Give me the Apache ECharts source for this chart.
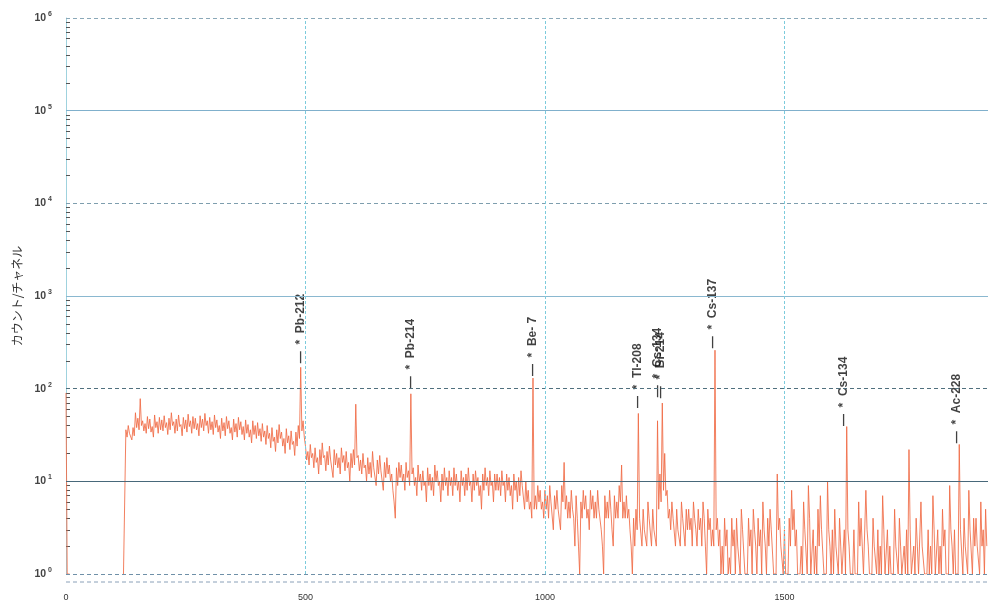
<!DOCTYPE html>
<html>
<head>
<meta charset="utf-8">
<script src="https://cdn.jsdelivr.net/npm/echarts@6/dist/echarts.min.js"></script>
<style>html,body{margin:0;padding:0;background:#fff;}#c{width:988px;height:605px;}</style>
</head>
<body>
<div id="c"></div>
<script>
// Channel step of the spectrum samples (each sample: upper value at channel, lower value half a step later)
const channelStep = 5;
// Upper envelope of counts per channel, channels 0,5,10,...,1920 (null = no counts)
const countsHigh = [
  90, 1, null, null, null, null, null, null, null, null, null, null, null, null, null, null, null, null, null, null,
  null, null, null, null, 1, 36, 40, 33, 38, 55, 48, 78, 45, 42, 50, 47, 39, 52, 44, 49,
  46, 51, 43, 48, 55, 44, 47, 52, 41, 49, 46, 53, 45, 50, 48, 42, 51, 47, 54, 45,
  49, 44, 52, 46, 40, 48, 43, 50, 45, 38, 47, 42, 49, 44, 39, 46, 41, 36, 45, 40,
  43, 37, 42, 35, 40, 33, 38, 30, 36, 41, 34, 29, 37, 31, 35, 27, 34, 40, 170, 45,
  24, 21, 25, 20, 23, 18, 22, 26, 19, 21, 24, 17, 22, 20, 18, 23, 19, 21, 16, 20,
  22, 68, 19, 17, 20, 15, 18, 16, 21, 14, 17, 19, 13, 16, 18, 15, 12, 6, 14, 16,
  15, 12, 16, 13, 88, 14, 11, 15, 12, 13, 10, 14, 12, 11, 15, 13, 10, 12, 14, 11,
  13, 11, 14, 12, 10, 13, 11, 12, 14, 10, 12, 13, 11, 9, 12, 14, 11, 13, 10, 12,
  12, 11, 13, 10, 12, 11, 9, 12, 10, 11, 13, 9, 10, 8, 6, 130, 7, 9, 8, 6,
  8, 7, 9, 6, 7, 8, 5, 9, 16, 7, 6, 8, 4, 7, 2, 6, 8, 7, 5, 8,
  7, 6, 8, 5, 2, 7, 6, 8, 3, 7, 6, 9, 15, 6, 7, 5, 2, 4, 5, 54,
  4, 5, 3, 6, 4, 5, 3, 45, 12, 70, 20, 8, 5, 6, 4, 5, 3, 6, 4, 5,
  5, 4, 6, 3, 5, 4, 6, 2, 5, 4, 3, 260, 4, 3, 2, 4, 3, 1.5, 4, 3,
  4, 2, 5, 3, 1, 4, 3, 5, 2, 4, 3, 6, 2, 4, 5, 3, 1, 12, 4, 2,
  3, 1, 4, 8, 5, 3, 1, 2, 6, 3, 9, 1, 3, 2, 5, 7, 3, 1, 10, 2,
  3, 5, 2, 4, 1, 3, 39, 2, 1, 3, 1, 6, 4, 1, 8, 2, 1, 4, 2, 3,
  2, 7, 1, 3, 2, 1, 5, 2, 4, 1, 2, 3, 22, 1, 2, 4, 1, 6, 2, 1,
  3, 2, 7, 1, 3, 2, 5, 3, 1, 9, 2, 3, 1, 25, 3, 4, 2, 8, 3, 4,
  4, 2, 6, 3, 5
];
// Lower envelope of counts, half a step after each channel above
const countsLow = [
  1, 1, null, null, null, null, null, null, null, null, null, null, null, null, null, null, null, null, null, null,
  null, null, null, null, 1, 30, 33, 28, 31, 38, 36, 40, 35, 33, 37, 34, 30, 38, 33, 36,
  35, 38, 32, 36, 40, 33, 35, 39, 31, 37, 34, 39, 33, 37, 36, 31, 38, 35, 40, 33,
  36, 32, 38, 34, 29, 35, 31, 37, 33, 28, 34, 30, 36, 32, 28, 33, 30, 26, 32, 29,
  31, 27, 30, 25, 29, 23, 27, 21, 26, 29, 24, 20, 26, 22, 25, 19, 24, 29, 35, 30,
  17, 15, 18, 14, 16, 12, 15, 18, 13, 15, 17, 11, 15, 14, 12, 16, 13, 14, 10, 14,
  15, 18, 13, 12, 14, 10, 12, 11, 14, 9, 12, 13, 8, 11, 12, 10, 8, 4, 9, 11,
  10, 8, 11, 9, 12, 9, 7, 10, 8, 9, 6, 9, 8, 7, 10, 9, 6, 8, 9, 7,
  9, 7, 9, 8, 6, 9, 7, 8, 9, 6, 8, 9, 7, 5, 8, 9, 7, 9, 6, 8,
  8, 7, 9, 6, 8, 7, 5, 8, 6, 7, 9, 5, 6, 5, 4, 5, 5, 6, 5, 4,
  5, 4, 6, 3, 5, 5, 3, 6, 5, 4, 4, 5, 2, 4, 1, 4, 5, 4, 3, 5,
  4, 4, 5, 3, 1, 4, 4, 5, 2, 4, 4, 6, 4, 4, 4, 3, 1, 2, 3, 4,
  2, 3, 2, 4, 2, 3, 2, 5, 6, 8, 7, 4, 3, 4, 2, 3, 2, 4, 2, 3,
  3, 2, 4, 2, 3, 2, 4, 1, 3, 2, 2, 3, 2, 1, 1, 2, 1, 1, 2, 1,
  2, 1, 3, 1, 1, 2, 1, 3, 1, 2, 1, 3, 1, 2, 3, 1, 1, 3, 2, 1,
  1, 1, 2, 3, 2, 1, 1, 1, 3, 1, 4, 1, 1, 1, 2, 3, 1, 1, 3, 1,
  1, 2, 1, 2, 1, 1, 3, 1, 1, 1, 1, 2, 2, 1, 3, 1, 1, 2, 1, 1,
  1, 3, 1, 1, 1, 1, 2, 1, 2, 1, 1, 1, 3, 1, 1, 2, 1, 2, 1, 1,
  1, 1, 3, 1, 1, 1, 2, 1, 1, 3, 1, 1, 1, 3, 1, 2, 1, 3, 1, 2,
  2, 1, 2, 1, 2
];
// Peak identification labels
const labelNames = ['Pb-212', 'Pb-214', 'Be- 7', 'Tl-208', 'Cs-134', 'Bi-214', 'Cs-137', 'Cs-134', 'Ac-228'];
const labelChannels = [490, 720, 975, 1194, 1237, 1243, 1351, 1624, 1860];
const labelCounts = [186, 100, 135, 61, 80, 78, 270, 39, 25.5];
// Axis ticks
const xTicks = [0, 500, 1000, 1500];
const yDecades = [1, 10, 100, 1000, 10000, 100000, 1000000];

const spectrum = [];
countsHigh.forEach((v, i) => {
  spectrum.push([i * channelStep, v]);
  spectrum.push([i * channelStep + channelStep / 2, countsLow[i]]);
});
const labelData = labelNames.map((n, i) => ({ name: n, value: [labelChannels[i], labelCounts[i]] }));

const gridStyles = {
  1: { type: [4, 3], color: '#6f90a8', width: 1 },
  10: { type: 'solid', color: '#48687a', width: 1 },
  100: { type: [4, 3], color: '#50707e', width: 1 },
  1000: { type: 'solid', color: '#8ab8d0', width: 1 },
  10000: { type: [4, 3], color: '#7e9eae', width: 1 },
  100000: { type: 'solid', color: '#80b0cc', width: 1 },
  1000000: { type: [4, 3], color: '#8aa8b8', width: 1 }
};
const markLines = yDecades.map(v => ({ yAxis: v, lineStyle: gridStyles[v] }))
  .concat(xTicks.filter(x => x > 0).map(x => ({ xAxis: x, lineStyle: { type: [3, 2], color: '#7ccbdc', width: 1 } })));

const narrow = 'Liberation Sans Narrow, Liberation Sans, sans-serif';
const chart = echarts.init(document.getElementById('c'), null, { renderer: 'canvas' });
chart.setOption({
  animation: false,
  backgroundColor: '#ffffff',
  grid: { left: 66, right: 0, top: 18, bottom: 31, containLabel: false },
  xAxis: {
    type: 'value', min: 0, max: 1925, interval: 500,
    axisLine: { show: false },
    axisTick: { show: false },
    splitLine: { show: false },
    axisLabel: {
      showMaxLabel: false, margin: 19, color: '#333',
      formatter: v => String(v),
      fontFamily: narrow, fontSize: 9
    }
  },
  yAxis: {
    type: 'log', logBase: 10, min: 1, max: 1000000,
    name: 'カウント/チャネル', nameLocation: 'middle', nameGap: 41, nameRotate: 90,
    nameTextStyle: { fontFamily: 'Noto Sans CJK JP', fontSize: 12, color: '#333' },
    axisLine: { show: true, lineStyle: { color: '#9fd2de', width: 1 } },
    axisTick: { show: false, inside: true },
    minorTick: { show: true, splitNumber: 9, length: 4, lineStyle: { color: '#555', width: 1 } },
    splitLine: { show: false },
    minorSplitLine: { show: false },
    axisLabel: {
      margin: 14, color: '#333',
      formatter: v => '{b|10}{s|' + Math.round(Math.log10(v)) + '}',
      rich: {
        b: { fontFamily: narrow, fontSize: 10.5, fontWeight: 'bold', color: '#444' },
        s: { fontFamily: narrow, fontSize: 7, fontWeight: 'bold', color: '#444', verticalAlign: 'bottom', padding: [0, 0, 8, 2] }
      }
    }
  },
  series: [
    {
      type: 'line', data: [], z: 1, silent: true,
      markLine: { silent: true, symbol: 'none', label: { show: false }, data: markLines, animation: false }
    },
    {
      type: 'line', data: spectrum, z: 3, showSymbol: false, connectNulls: false,
      lineStyle: { color: '#f06a44', width: 1, opacity: 0.85 }
    },
    {
      type: 'scatter', data: labelData, z: 4, symbolSize: 1,
      itemStyle: { color: 'rgba(0,0,0,0)' },
      label: {
        show: true, position: [0, 0], rotate: 90, align: 'left', verticalAlign: 'middle',
        formatter: p => '—  *  ' + p.name,
        fontFamily: narrow, fontSize: 12, fontWeight: 'bold', color: '#111'
      }
    }
  ],
  graphic: [
    { type: 'line', shape: { x1: 66, y1: 582, x2: 988, y2: 582 }, style: { stroke: '#8aa0b8', lineDash: [4, 3], lineWidth: 1 } }
  ]
});
</script>
</body>
</html>
